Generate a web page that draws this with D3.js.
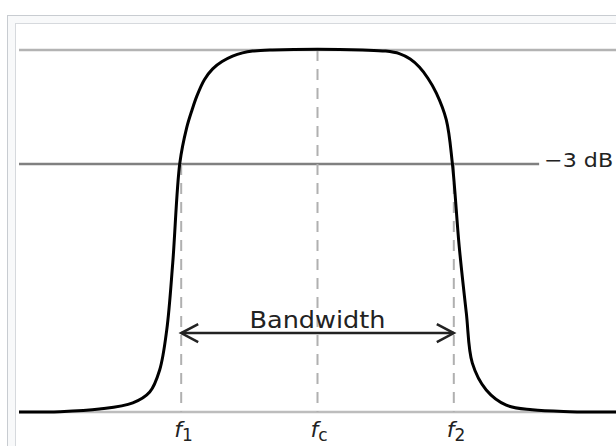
<!DOCTYPE html>
<html>
<head>
<meta charset="utf-8">
<script src="https://cdn.jsdelivr.net/npm/d3@7"></script>
<style>
  html, body { margin: 0; padding: 0; background: #fff; }
  svg { display: block; }
  text { font-family: "DejaVu Sans", sans-serif; fill: #222; }
</style>
</head>
<body>
<div id="chart"></div>
<script>
// normalised frequency: f1 = -1, fc = 0, f2 = +1
var responseFreq = [-2.19, -1.89, -1.6, -1.355, -1.231, -1.158, -1.106, -1.062, -1.01, -0.96, -0.92, -0.886, -0.83, -0.769, -0.7, -0.623, -0.55, -0.476, -0.33, 0,
                    0.33, 0.5, 0.6, 0.68, 0.747, 0.81, 0.872, 0.945, 0.989, 1.04, 1.092, 1.136, 1.238, 1.385, 1.575, 1.85, 2.19];
var responseGain = [0, 0.001, 0.008, 0.025, 0.055, 0.116, 0.227, 0.412, 0.688, 0.785, 0.835, 0.872, 0.918, 0.948, 0.968, 0.983, 0.992, 0.997, 1, 1.002,
                    1, 0.997, 0.99, 0.975, 0.953, 0.922, 0.881, 0.807, 0.688, 0.456, 0.273, 0.135, 0.061, 0.019, 0.006, 0.001, 0];

var markFreq = [-1, 0, 1];
var markNames = ['1', 'c', '2'];
var markTop = [0.685, 1, 0.685];   // where each dashed guide starts

var passLevel = 1;
var halfPowerLevel = 0.685;     // -3 dB
var halfPowerEnd = 1.626;
var halfPowerLabel = '\u22123 dB';
var bandLevel = 0.218;
var bandLabel = 'Bandwidth';

var W = 616, H = 446;
var svg = d3.select('#chart').append('svg').attr('width', W).attr('height', H);

// thumbnail frame
svg.append('rect').attr('x', 7.5).attr('y', 15.5).attr('width', W).attr('height', H)
  .attr('fill', '#f8f9fa').attr('stroke', '#c8ccd1');
svg.append('rect').attr('x', 15.5).attr('y', 23.5).attr('width', W).attr('height', H)
  .attr('fill', '#fff').attr('stroke', '#d6d9dd');

var x = d3.scaleLinear().domain([-2.19, 2.19]).range([19, 616]);
var y = d3.scaleLinear().domain([0, 1]).range([412, 50]);

var g = svg.append('g');

// horizontal reference levels
g.append('line').attr('x1', x(-2.19)).attr('x2', x(2.19))
  .attr('y1', y(passLevel)).attr('y2', y(passLevel))
  .attr('stroke', '#b3b3b3').attr('stroke-width', 2.5);
g.append('line').attr('x1', x(-2.19)).attr('x2', x(2.19))
  .attr('y1', y(0)).attr('y2', y(0))
  .attr('stroke', '#bdbdbd').attr('stroke-width', 2.5);
g.append('line').attr('x1', x(-2.19)).attr('x2', x(halfPowerEnd))
  .attr('y1', y(halfPowerLevel)).attr('y2', y(halfPowerLevel))
  .attr('stroke', '#808080').attr('stroke-width', 2.5);

// dashed guides
g.selectAll('line.guide').data(markFreq).enter().append('line')
  .attr('class', 'guide')
  .attr('x1', function(d){ return x(d); }).attr('x2', function(d){ return x(d); })
  .attr('y1', function(d, i){ return y(markTop[i]); }).attr('y2', y(0))
  .attr('stroke', '#b0b0b0').attr('stroke-width', 2)
  .attr('stroke-dasharray', '11,8');

// response curve
var pts = responseFreq.map(function(f, i){ return [f, responseGain[i]]; });
var line = d3.line()
  .x(function(d){ return x(d[0]); })
  .y(function(d){ return y(d[1]); })
  .curve(d3.curveCatmullRom.alpha(0.5));
g.append('path').datum(pts).attr('d', line)
  .attr('fill', 'none').attr('stroke', '#000').attr('stroke-width', 3)
  .attr('stroke-linejoin', 'round');

// bandwidth arrow
var ay = y(bandLevel), ax1 = x(markFreq[0]), ax2 = x(markFreq[2]);
g.append('line').attr('x1', ax1).attr('x2', ax2).attr('y1', ay).attr('y2', ay)
  .attr('stroke', '#222').attr('stroke-width', 2.5);
g.append('path')
  .attr('d', 'M' + (ax1 + 17) + ',' + (ay - 9) + 'L' + ax1 + ',' + ay + 'L' + (ax1 + 17) + ',' + (ay + 9))
  .attr('fill', 'none').attr('stroke', '#222').attr('stroke-width', 2.5);
g.append('path')
  .attr('d', 'M' + (ax2 - 17) + ',' + (ay - 9) + 'L' + ax2 + ',' + ay + 'L' + (ax2 - 17) + ',' + (ay + 9))
  .attr('fill', 'none').attr('stroke', '#222').attr('stroke-width', 2.5);

g.append('text').attr('x', x(0)).attr('y', ay - 5)
  .attr('text-anchor', 'middle').attr('font-size', 22.5)
  .attr('textLength', 136).attr('lengthAdjust', 'spacingAndGlyphs')
  .text(bandLabel);

g.append('text').attr('x', x(halfPowerEnd) + 5).attr('y', y(halfPowerLevel) + 3)
  .attr('font-size', 20).attr('fill', '#333')
  .attr('textLength', 69).attr('lengthAdjust', 'spacingAndGlyphs')
  .text(halfPowerLabel);

// frequency labels
var lab = g.selectAll('text.flab').data(markFreq).enter().append('text')
  .attr('class', 'flab')
  .attr('x', function(d){ return x(d) - 7; })
  .attr('y', 437)
  .attr('font-size', 22);
lab.append('tspan').attr('font-style', 'italic').text('f');
lab.append('tspan').attr('font-size', 17).attr('dy', 4)
  .text(function(d, i){ return markNames[i]; });
</script>
</body>
</html>
